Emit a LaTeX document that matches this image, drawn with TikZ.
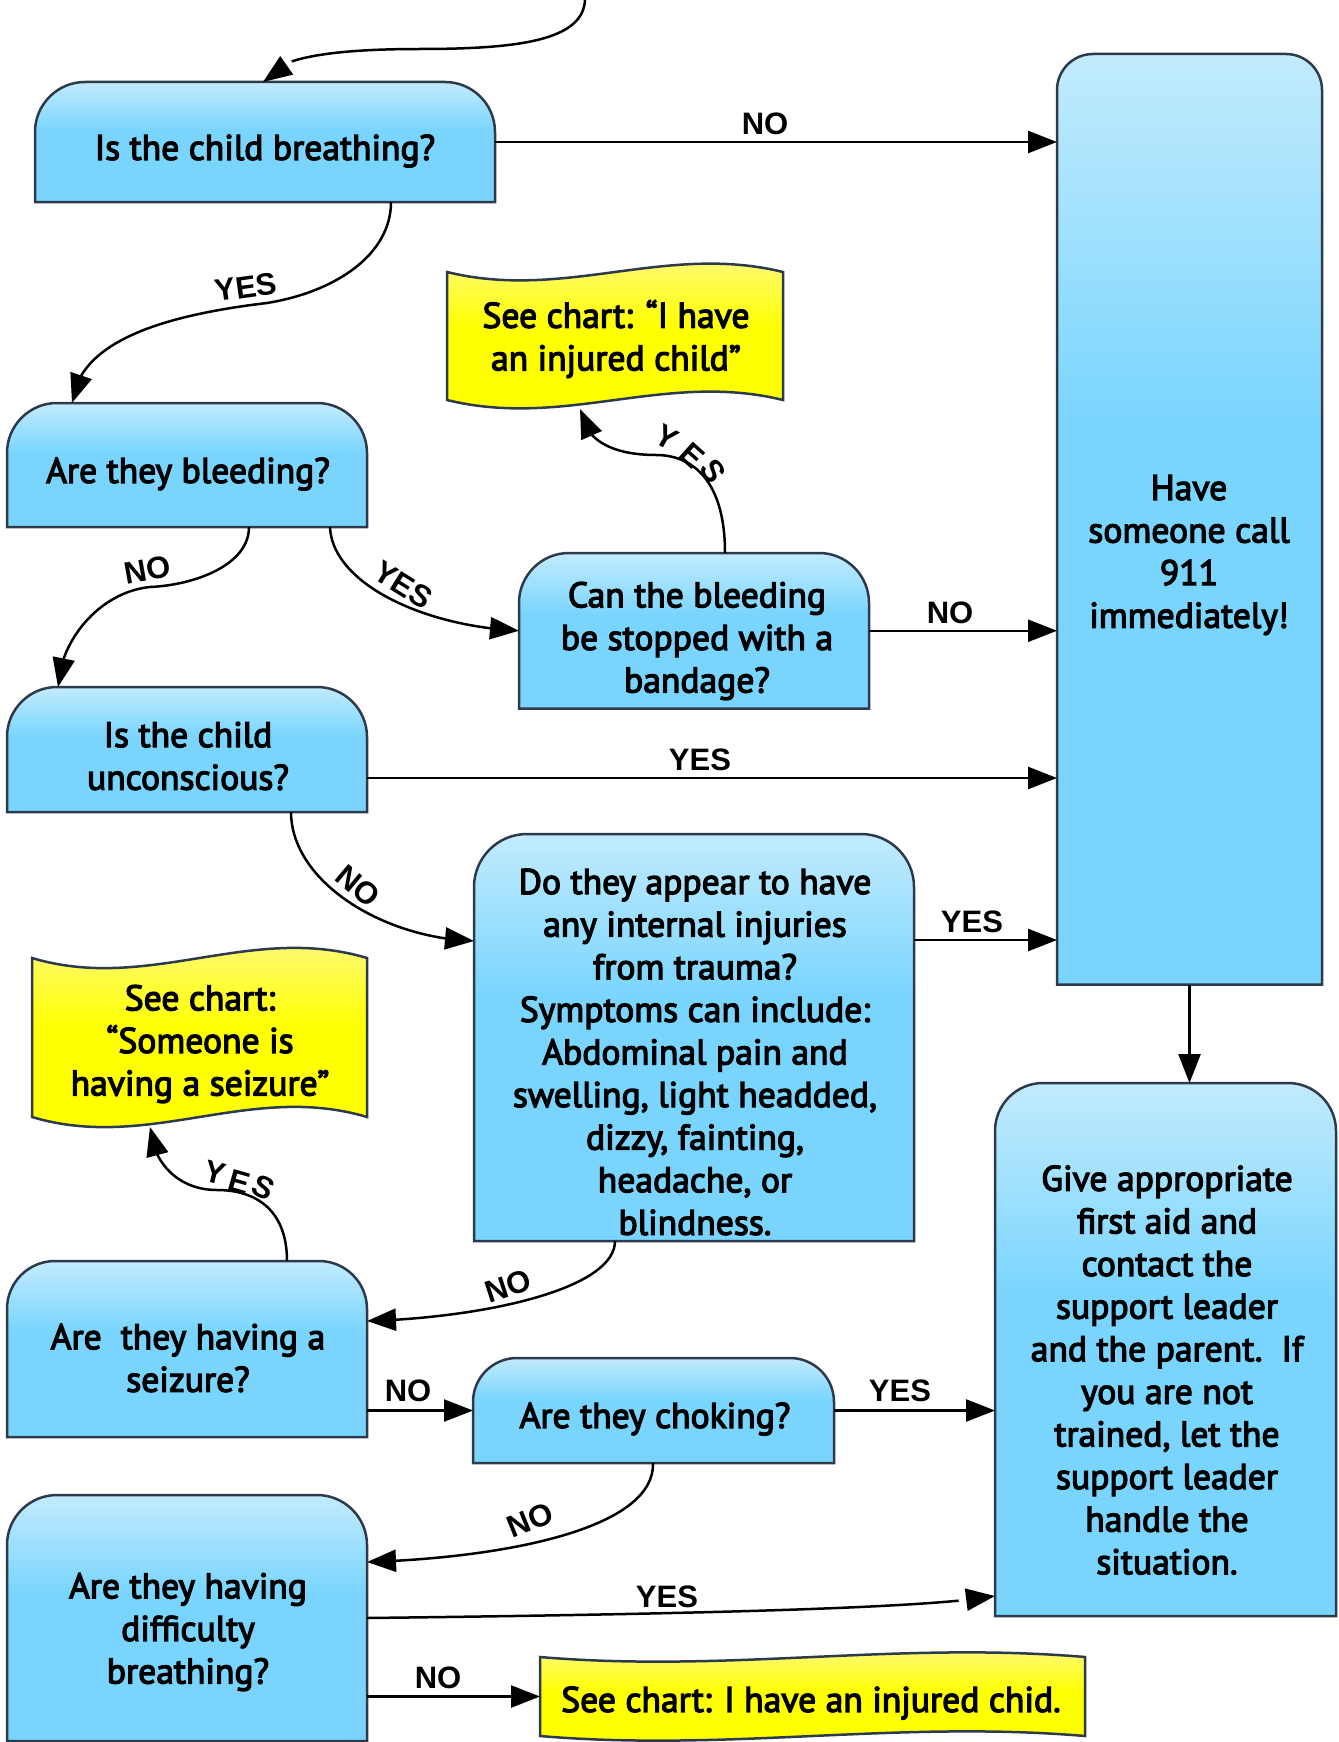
\documentclass[tikz,border=0pt]{standalone}
\usepackage{fontspec}
\setmainfont{PT Sans}[FakeBold=3.5]
\newfontfamily\lblfont{Liberation Sans}
\usetikzlibrary{arrows.meta,bending,calc}
\definecolor{bdark}{HTML}{79D5FE}
\definecolor{blight}{HTML}{C2EBFD}
\definecolor{ydark}{HTML}{FFFF00}
\definecolor{ylight}{HTML}{FFF98E}
\definecolor{edgec}{HTML}{2C3A4C}
\pgfdeclareverticalshading{blufade}{100bp}{color(0bp)=(bdark); color(55bp)=(bdark); color(75bp)=(blight); color(100bp)=(blight)}
\pgfdeclareverticalshading{yelfade}{100bp}{color(0bp)=(ydark); color(52bp)=(ydark); color(75bp)=(ylight); color(100bp)=(ylight)}
\newcommand\qshape[2]{\draw[bshape] (#1.south west) -- ($(#1.north west)+(0,#2)$) arc[start angle=180,end angle=90,radius=#2pt] -- ($(#1.north east)+(-#2,0)$) arc[start angle=90,end angle=0,radius=#2pt] -- (#1.south east) -- cycle;}
\newcommand\wavyshape[3]{\draw[yshape] (#1.north west) .. controls +(#2,#3) and +(-#2,-#3) .. (#1.north east) -- (#1.south east) .. controls +(-#2,-#3) and +(#2,#3) .. (#1.south west) -- cycle;}
\begin{document}
\begin{tikzpicture}[x=1pt,y=-1pt,
  slot/.style={draw=none,inner sep=0pt,outer sep=0pt},
  bshape/.style={draw=edgec,line width=2.5pt,shade,shading=blufade},
  yshape/.style={draw=edgec,line width=2.5pt,shade,shading=yelfade},
  txt/.style={font=\fontsize{35.6}{42.6}\selectfont,align=center,inner sep=0pt},
  lbl/.style={font=\lblfont\bfseries\fontsize{31}{31}\selectfont,inner sep=0pt},
  conn/.style={line width=2.5pt,-{Triangle[length=29pt,width=22pt]}}]
\useasboundingbox (0,0) rectangle (1338,1742);
% boxes
\node[slot,minimum width=460,minimum height=120] (b1) at (265,142) {};
\qshape{b1}{50}
\node[txt] (b1t) at (265,151) {Is the child breathing?};

\node[slot,minimum width=265,minimum height=930.5] (call) at (1189.5,519.25) {};
\qshape{call}{36}
\node[txt] (callt) at (1189,555) {Have\\someone call\\911\\immediately!};

\node[slot,minimum width=336,minimum height=128] (yel1) at (615,336) {};
\wavyshape{yel1}{118}{29}
\node[txt] (yel1t) at (616,339) {See chart: “I have\\an injured child”};

\node[slot,minimum width=360,minimum height=124] (bleed) at (187,465) {};
\qshape{bleed}{50}
\node[txt] (bleedt) at (188,474) {Are they bleeding?};

\node[slot,minimum width=350,minimum height=155.5] (canstop) at (694,630.75) {};
\qshape{canstop}{50}
\node[txt] (canstopt) at (697,641) {Can the bleeding\\be stopped with a\\bandage?};

\node[slot,minimum width=360,minimum height=125] (uncon) at (187,749.5) {};
\qshape{uncon}{50}
\node[txt] (uncont) at (188,756) {Is the child\\unconscious?};

\node[slot,minimum width=440,minimum height=407] (intl) at (694,1037.5) {};
\qshape{intl}{53}
\node[txt] (intlt) at (695,1052) {Do they appear to have\\any internal injuries\\from trauma?\\Symptoms can include:\\Abdominal pain and\\swelling, light headded,\\dizzy, fainting,\\headache, or\\blindness.};

\node[slot,minimum width=335,minimum height=159] (yel2) at (199.5,1037.5) {};
\wavyshape{yel2}{117}{35}
\node[txt] (yel2t) at (200,1044) {See chart:\\“Someone is\\having a seizure”};

\node[slot,minimum width=341,minimum height=533] (give) at (1165.5,1349.5) {};
\qshape{give}{48}
\node[txt] (givet) at (1167,1370) {Give appropriate\\first aid and\\contact the\\support leader\\and the parent.\ \ If\\you are not\\trained, let the\\support leader\\handle the\\situation.};

\node[slot,minimum width=360,minimum height=176] (seiz) at (187,1349) {};
\qshape{seiz}{48}
\node[txt] (seizt) at (188,1358) {Are\ \ they having a\\seizure?};

\node[slot,minimum width=361,minimum height=105] (chok) at (653.5,1410.5) {};
\qshape{chok}{44}
\node[txt] (chokt) at (655,1419) {Are they choking?};

\node[slot,minimum width=360,minimum height=246] (diff) at (187,1618) {};
\qshape{diff}{50}
\node[txt] (difft) at (188,1632) {Are they having\\difficulty\\breathing?};

\node[slot,minimum width=545,minimum height=79] (yel3) at (812.5,1696.5) {};
\wavyshape{yel3}{190}{16}
\node[txt] (yel3t) at (811,1703) {See chart: I have an injured chid.};

% connectors
\coordinate (topin) at (585,0);
\draw[conn] (topin) .. controls (583,40) and (520,49) .. (420,49) .. controls (330,49) and (272,58) .. (b1.north -| 263,0);
\draw[conn] (b1.east) -- (call.west |- b1.east);
\draw[conn] (b1.south -| 391,0) .. controls (391,255) and (335,292) .. (267,303) .. controls (140,318) and (78,350) .. (bleed.north -| 72,0);
\draw[conn] (bleed.south -| 249,0) .. controls (249,565) and (195,585) .. (150,587) .. controls (100,592) and (60,640) .. (uncon.north -| 58,0);
\draw[conn] (bleed.south -| 330,0) .. controls (332,582) and (420,626) .. (canstop.west);
\draw[conn] (canstop.north -| 725,0) .. controls (725,480) and (692,455) .. (656,455) .. controls (612,455) and (584,440) .. ($(yel1.south -| 580,0)+(0,9)$);
\draw[conn] (canstop.east) -- (call.west |- canstop.east);
\draw[conn] (uncon.east |- 0,778) -- (call.west |- 0,778);
\draw[conn] (uncon.south -| 291,0) .. controls (291,880) and (380,938) .. (intl.west |- 0,941);
\draw[conn] (intl.east |- 0,940) -- (call.west |- 0,940);
\draw[conn] (call.south) -- (give.north -| call.south);
\draw[conn] (intl.south -| 615,0) .. controls (615,1290) and (480,1318) .. (seiz.east |- 0,1321);
\draw[conn] (seiz.north -| 287,0) .. controls (287,1210) and (256,1190) .. (217,1190) .. controls (176,1190) and (152,1160) .. ($(yel2.south -| 150,0)+(0,10)$);
\draw[conn] (seiz.east |- chok.west) -- (chok.west);
\draw[conn] (chok.east) -- (give.west |- chok.east);
\draw[conn] (chok.south -| 653,0) .. controls (655,1530) and (500,1558) .. (diff.east |- 0,1562);
\draw[conn] (diff.east |- 0,1618) .. controls (700,1614) and (930,1608) .. (give.west |- 0,1596);
\draw[conn] (diff.east |- yel3.west) -- (yel3.west);

% labels
\node[lbl] (l1) at (765,124) {NO};
\node[lbl,rotate=8] (l2) at (246,287) {YES};
\node[lbl,rotate=10] (l3) at (148,570) {NO};
\node[lbl,rotate=-32] (l4) at (403,585) {YES};
\node[lbl,rotate=-30] (l5y) at (667,437) {Y};
\node[lbl,rotate=-42] (l5e) at (692,455) {E};
\node[lbl,rotate=-56] (l5s) at (713,471) {S};
\node[lbl] (l6) at (950,613) {NO};
\node[lbl] (l7) at (700,760) {YES};
\node[lbl,rotate=-40] (l8) at (358,886) {NO};
\node[lbl] (l9) at (972,922) {YES};
\node[lbl,rotate=18] (l10) at (508,1286) {NO};
\node[lbl,rotate=-14] (l11y) at (215,1173) {Y};
\node[lbl,rotate=-16] (l11e) at (239,1182) {E};
\node[lbl,rotate=-26] (l11s) at (263,1187) {S};
\node[lbl] (l12) at (408,1391) {NO};
\node[lbl] (l13) at (900,1391) {YES};
\node[lbl,rotate=22] (l14) at (530,1520) {NO};
\node[lbl] (l15) at (667,1597) {YES};
\node[lbl] (l16) at (438,1678) {NO};
\end{tikzpicture}
\end{document}
